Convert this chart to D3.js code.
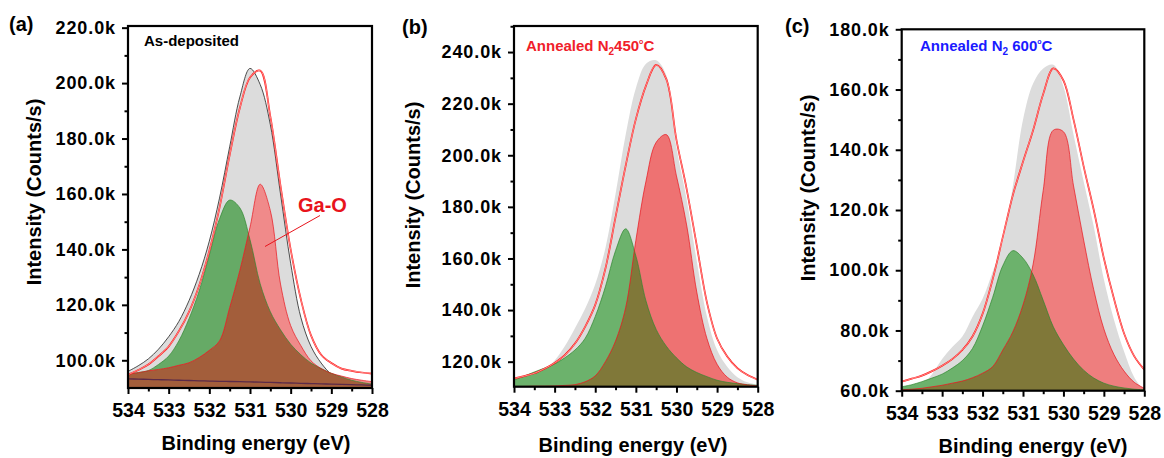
<!DOCTYPE html>
<html>
<head>
<meta charset="utf-8">
<script src="https://cdn.jsdelivr.net/npm/d3@7"></script>
<style>
  body { margin: 0; background: #fff; }
  text { font-family: "Liberation Sans", Arial, sans-serif; font-weight: bold; }
</style>
</head>
<body>
<svg id="chart" width="1164" height="458"></svg>
<script>
// binding energy grid (eV), shared by all panels
var energy = [534, 533.75, 533.5, 533.25, 533, 532.75, 532.5, 532.25, 532, 531.75, 531.5, 531.25, 531,
              530.75, 530.5, 530.25, 530, 529.75, 529.5, 529.25, 529, 528.75, 528.5, 528.25, 528];
var xTicks = [534, 533, 532, 531, 530, 529, 528];

// (a) as-deposited, intensities in k counts/s
var asDepMeasured = [96.0, 98.0, 100.5, 104, 108.5, 114, 121.5, 131, 143, 158.5, 177, 195, 205.3,
                     199.5, 185, 160, 135, 115.5, 105, 99, 95, 93.2, 91.9, 91.2, 90.6];
var asDepFit = [94.8, 96.5, 98.5, 101.5, 105, 110.5, 117.5, 127, 139.5, 155, 174, 191, 202,
                204.5, 188, 163, 140, 122, 109, 102, 99, 97, 96.2, 95.6, 95.2];
var asDepPeak1 = [95.2, 95.6, 96.3, 98.5, 101.5, 107, 115, 125, 138, 151, 157.8, 155, 143.5,
                  127.6, 117.5, 111, 105.8, 102, 99, 97, 95.3, 94, 92.8, 92, 91.4];
var asDepGaO = [95.0, 95.5, 96.2, 96.7, 97.3, 98.2, 99.1, 101, 103.6, 107, 119, 132.4, 148,
                163.5, 154, 127.5, 112.5, 105.3, 99.8, 97, 95.3, 94.3, 93.4, 92.8, 92.3];
var asDepBg = [93.3, 93.2, 93.1, 93.0, 92.9, 92.8, 92.7, 92.6, 92.5, 92.4, 92.35, 92.3, 92.2,
               92.1, 92.0, 91.9, 91.8, 91.7, 91.6, 91.5, 91.4, 91.3, 91.2, 91.1, 91.0];
var asDepTicks = [100, 120, 140, 160, 180, 200, 220];

// (b) annealed N2 450 C
var n450Measured = [111, 111.8, 113.5, 116.5, 120.5, 126, 133, 140.5, 150, 164, 185, 208, 226,
                    235.5, 236.8, 231, 203, 183, 159, 137.5, 124.5, 118, 114, 112, 111];
var n450Fit = [113.5, 114.4, 115.5, 117.3, 119.5, 122.5, 127, 133.5, 142, 156, 176, 196, 214,
               227, 235, 229.5, 206, 187, 165, 143, 129, 122, 117.5, 114.8, 113];
var n450Peak1 = [112.9, 114.4, 116, 117.5, 119.1, 121.5, 124.5, 129, 137.5, 149, 163, 171.5, 161,
                 143.5, 132.5, 126, 121.5, 118, 115.8, 114.2, 112.8, 112, 111.5, 111.1, 110.8];
var n450GaO = [110.4, 110.4, 110.5, 110.5, 110.6, 110.8, 111.1, 112.2, 114.5, 120, 128, 141, 167,
               190, 205, 208, 192, 173, 147, 129, 119, 114, 111.8, 111, 110.6];
var n450Ticks = [120, 140, 160, 180, 200, 220, 240];

// (c) annealed N2 600 C
var n600Measured = [60.5, 61, 62, 65.5, 70.5, 74.5, 78, 84.5, 90.5, 99.5, 109.5, 128, 150,
                    162, 167, 168.2, 161, 145, 129.5, 114.5, 97, 83.6, 73, 64.5, 60];
var n600Fit = [63, 64, 65, 66.5, 68.3, 70.5, 73.5, 78, 85.5, 97, 111, 125, 136,
               146.5, 158.5, 167, 163, 150, 134.5, 120, 104, 90.5, 79, 71.5, 67];
var n600Peak1 = [61.3, 62, 63, 64.2, 65.5, 67.5, 70, 74, 81.5, 91, 101.5, 106.5, 104,
                 98.5, 90, 81.2, 75.3, 70.5, 66.8, 64.2, 62.5, 61.5, 60.9, 60.5, 60.3];
var n600GaO = [60.3, 60.5, 60.8, 61.3, 61.8, 62.5, 63.2, 64.3, 65.8, 68, 73.5, 79.6, 88.5,
               102, 126.5, 146.5, 146, 128, 110, 93.5, 80.5, 72, 66.5, 62.8, 60.8];
var n600Ticks = [60, 80, 100, 120, 140, 160, 180];

var panels = [
  { left: 128, right: 372, top: 26, bottom: 388, yDomain: [90, 220.6], yTicks: asDepTicks,
    measured: asDepMeasured, fit: asDepFit, peak1: asDepPeak1, gao: asDepGaO, bg: asDepBg,
    edge: "#222", green: "#66aa66", pink: "#f08a8a", overlap: "#a35e3b",
    letter: "(a)", letterX: 9, letterY: 31,
    note: [{ t: "As-deposited" }], noteColor: "#000", noteX: 144, noteY: 46,
    yTitleX: 41, yTitleY: 192, xTitleX: 256, xTitleY: 450 },
  { left: 514, right: 757.7, top: 26, bottom: 386.7, yDomain: [110.3, 250.1], yTicks: n450Ticks,
    measured: n450Measured, fit: n450Fit, peak1: n450Peak1, gao: n450GaO, bg: null,
    edge: "none", green: "#6cb26c", pink: "#ee7272", overlap: "#807839",
    letter: "(b)", letterX: 402, letterY: 34,
    note: [{ t: "Annealed N" }, { t: "2", sub: true }, { t: "450" }, { t: "o", sup: true }, { t: "C" }],
    noteColor: "#f0202a", noteX: 526, noteY: 51,
    yTitleX: 420, yTitleY: 195, xTitleX: 633, xTitleY: 452 },
  { left: 901.7, right: 1144.3, top: 29.3, bottom: 390.7, yDomain: [60, 180], yTicks: n600Ticks,
    measured: n600Measured, fit: n600Fit, peak1: n600Peak1, gao: n600GaO, bg: null,
    edge: "none", green: "#6cb26c", pink: "#ee7e7e", overlap: "#807839",
    letter: "(c)", letterX: 785, letterY: 33,
    note: [{ t: "Annealed N" }, { t: "2", sub: true }, { t: " 600" }, { t: "o", sup: true }, { t: "C" }],
    noteColor: "#1a1aff", noteX: 920, noteY: 51,
    yTitleX: 815, yTitleY: 188, xTitleX: 1033, xTitleY: 453 }
];

var svg = d3.select("#chart");
var defs = svg.append("defs");

panels.forEach(function(p, i) {
  var x = d3.scaleLinear().domain([534, 528]).range([p.left, p.right]);
  var y = d3.scaleLinear().domain(p.yDomain).range([p.bottom, p.top]);
  var curve = d3.curveCatmullRom.alpha(0.5);

  var area = d3.area()
      .x(function(d, j) { return x(energy[j]); })
      .y0(p.bottom)
      .y1(function(d) { return y(d); })
      .curve(curve);
  var line = d3.line()
      .x(function(d, j) { return x(energy[j]); })
      .y(function(d) { return y(d); })
      .curve(curve);

  defs.append("clipPath").attr("id", "plot" + i)
    .append("rect")
      .attr("x", p.left).attr("y", p.top)
      .attr("width", p.right - p.left).attr("height", p.bottom - p.top);
  defs.append("clipPath").attr("id", "green" + i)
    .append("path").attr("d", area(p.peak1));

  var plot = svg.append("g").attr("clip-path", "url(#plot" + i + ")");

  // measured envelope
  plot.append("path").attr("d", area(p.measured)).attr("fill", "#dcdcdc");
  if (p.edge != "none")
    plot.append("path").attr("d", line(p.measured))
      .attr("fill", "none").attr("stroke", p.edge).attr("stroke-width", 0.8);

  // components
  plot.append("path").attr("d", area(p.peak1)).attr("fill", p.green);
  plot.append("path").attr("d", area(p.gao)).attr("fill", p.pink);
  plot.append("path").attr("d", area(p.gao))
    .attr("clip-path", "url(#green" + i + ")")
    .attr("fill", p.overlap);
  plot.append("path").attr("d", line(p.peak1))
    .attr("fill", "none").attr("stroke", "#2f862f").attr("stroke-width", 0.7);
  plot.append("path").attr("d", line(p.gao))
    .attr("fill", "none").attr("stroke", "#e8141c").attr("stroke-width", 0.7);

  if (p.bg)
    plot.append("path").attr("d", line(p.bg))
      .attr("fill", "none").attr("stroke", "#5b2a48").attr("stroke-width", 1.3);

  // fit envelope, a thin red line with a faint light core
  plot.append("path").attr("d", line(p.fit))
    .attr("fill", "none").attr("stroke", "#ff1010").attr("stroke-width", 1.7);
  plot.append("path").attr("d", line(p.fit))
    .attr("fill", "none").attr("stroke", "#fff").attr("stroke-width", 0.5);

  // axes
  var xMinor = xTicks.map(function(v) { return v - 0.5; }).filter(function(v) { return v >= 528; });
  var yMinor = p.yTicks.map(function(v) { return v - 10; })
      .filter(function(v) { return v > p.yDomain[0]; });
  if (p.yTicks[p.yTicks.length - 1] + 10 < p.yDomain[1]) yMinor.push(p.yTicks[p.yTicks.length - 1] + 10);

  var gx = svg.append("g").attr("transform", "translate(0," + p.bottom + ")");
  gx.append("g").call(d3.axisBottom(x).tickValues(xMinor).tickSize(3.5).tickFormat(""));
  gx.append("g").call(d3.axisBottom(x).tickValues(xTicks).tickSize(6).tickPadding(9)
      .tickFormat(d3.format("d")));
  gx.selectAll("text").attr("font-size", "19.5px").attr("fill", "#000");

  var gy = svg.append("g").attr("transform", "translate(" + p.left + ",0)");
  gy.append("g").call(d3.axisLeft(y).tickValues(yMinor).tickSize(3.5).tickFormat(""));
  gy.append("g").call(d3.axisLeft(y).tickValues(p.yTicks).tickSize(6).tickPadding(6)
      .tickFormat(function(d) { return d.toFixed(1) + "k"; }));
  gy.selectAll("text").attr("font-size", "18px").attr("fill", "#000")
    .style("letter-spacing", "0.9px");

  svg.selectAll(".domain").remove();
  svg.selectAll(".tick line").attr("stroke", "#000").attr("stroke-width", 2);

  // frame
  svg.append("rect")
    .attr("x", p.left).attr("y", p.top)
    .attr("width", p.right - p.left).attr("height", p.bottom - p.top)
    .attr("fill", "none").attr("stroke", "#000").attr("stroke-width", 2.2);

  // titles
  svg.append("text").attr("x", p.xTitleX).attr("y", p.xTitleY)
    .attr("text-anchor", "middle").attr("font-size", "20px").text("Binding energy (eV)");
  svg.append("text")
    .attr("transform", "translate(" + p.yTitleX + "," + p.yTitleY + ") rotate(-90)")
    .attr("text-anchor", "middle").attr("font-size", "20px").text("Intensity (Counts/s)");
  svg.append("text").attr("x", p.letterX).attr("y", p.letterY)
    .attr("font-size", "20px").text(p.letter);

  // sample label with sub/superscripts
  var note = svg.append("text").attr("x", p.noteX).attr("y", p.noteY)
    .attr("font-size", "15px").attr("fill", p.noteColor);
  var shift = 0;
  p.note.forEach(function(s) {
    var want = s.sub ? 4 : (s.sup ? -7 : 0);
    note.append("tspan")
      .attr("dy", want - shift)
      .attr("font-size", s.sub ? "10px" : (s.sup ? "7px" : "15px"))
      .text(s.t);
    shift = want;
  });
});

// Ga-O label in panel (a)
svg.append("line")
  .attr("x1", 265).attr("y1", 246.5).attr("x2", 320).attr("y2", 215.5)
  .attr("stroke", "#e8141c").attr("stroke-width", 1);
svg.append("text").attr("x", 298).attr("y", 212)
  .attr("font-size", "20px").attr("fill", "#e8141c").text("Ga-O");
</script>
</body>
</html>
